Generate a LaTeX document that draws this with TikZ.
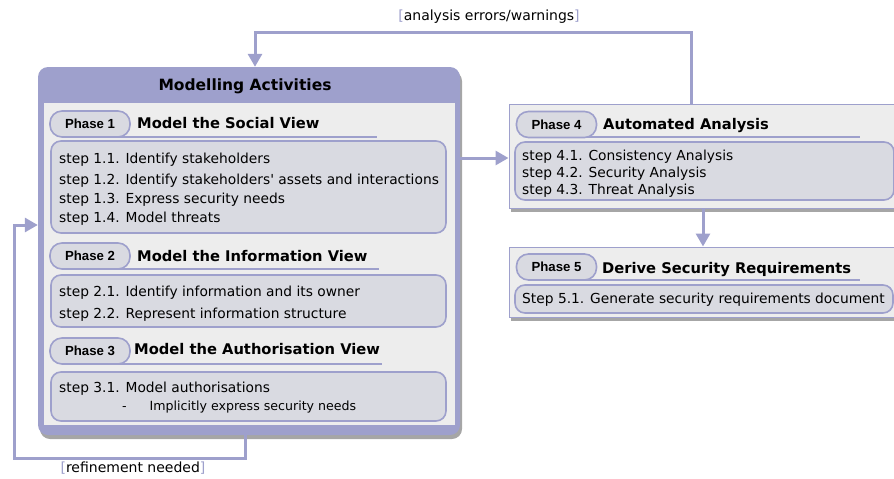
\documentclass[tikz,border=0pt]{standalone}
\usepackage{fontspec}
\setmainfont{DejaVu Sans}
\newfontfamily\phasefont{Liberation Sans}
\usetikzlibrary{arrows.meta,shadows}

\definecolor{lav}{RGB}{158,160,204}
\definecolor{paper}{RGB}{237,237,237}
\definecolor{stepfill}{RGB}{217,218,225}

\tikzset{
  flow/.style={draw=lav, line width=3pt, -{Triangle[length=13pt,width=14pt]}},
  rule/.style={draw=lav, line width=1.6pt},
  pill/.style={draw=lav, line width=1.6pt, fill=stepfill, rounded corners=12pt,
    minimum width=80pt, minimum height=26pt, inner sep=0pt,
    font=\phasefont\bfseries\fontsize{13.2}{15}\selectfont},
  stepbox/.style={draw=lav, line width=1.6pt, fill=stepfill, rounded corners=10pt, inner sep=0pt},
  phasebox/.style={draw=lav, line width=1pt, fill=paper, inner sep=0pt,
    drop shadow={shadow xshift=2pt, shadow yshift=-4pt, opacity=.35, fill=black}},
  title/.style={anchor=base west, inner sep=0pt, font=\bfseries\fontsize{14.7}{17}\selectfont},
  steptext/.style={anchor=base west, inner sep=0pt, font=\fontsize{13.8}{16}\selectfont},
  note/.style={anchor=base, inner sep=0pt, font=\fontsize{14}{16}\selectfont},
}
\newcommand{\bracketed}[1]{\textcolor{lav}{[}#1\textcolor{lav}{]}}

\begin{document}
\begin{tikzpicture}[x=1pt,y=-1pt]
  \useasboundingbox (0,0) rectangle (894,479);
  \clip (0,0) rectangle (894,479);

  % modelling activities
  \node[fill=lav, rounded corners=10pt, minimum width=422pt, minimum height=368pt, inner sep=0pt,
    drop shadow={shadow xshift=2pt, shadow yshift=-4pt, opacity=.35, fill=black}] (model) at (249,251) {};
  \node[fill=paper, minimum width=411pt, minimum height=322pt, inner sep=0pt] (modin) at (249.5,264) {};
  \node[note, font=\bfseries\fontsize{15.5}{18}\selectfont] (modtitle) at (245,90) {Modelling Activities};

  % phase 1
  \draw[rule] (90,137) -- (377,137);
  \node[pill] (ph1) at (90,124) {Phase 1};
  \node[title] (ph1t) at (137,128) {Model the Social View};
  \node[stepbox, minimum width=395pt, minimum height=92pt] (st1) at (248.5,187) {};
  \node[steptext] (s11) at (59,163) {step 1.1. Identify stakeholders};
  \node[steptext] (s12) at (59,184) {step 1.2. Identify stakeholders\textquotesingle\ assets and interactions};
  \node[steptext] (s13) at (59,203) {step 1.3. Express security needs};
  \node[steptext] (s14) at (59,222) {step 1.4. Model threats};

  % phase 2
  \draw[rule] (90,269) -- (379,269);
  \node[pill] (ph2) at (90,256) {Phase 2};
  \node[title] (ph2t) at (137,261) {Model the Information View};
  \node[stepbox, minimum width=395pt, minimum height=52pt] (st2) at (248.5,301) {};
  \node[steptext] (s21) at (59,296) {step 2.1. Identify information and its owner};
  \node[steptext] (s22) at (59,318) {step 2.2. Represent information structure};

  % phase 3
  \draw[rule] (90,364) -- (382,364);
  \node[pill] (ph3) at (90,351) {Phase 3};
  \node[title] (ph3t) at (134,354) {Model the Authorisation View};
  \node[stepbox, minimum width=395pt, minimum height=49pt] (st3) at (248.5,396.5) {};
  \node[steptext] (s31) at (59,392) {step 3.1. Model authorisations};
  \node[steptext, font=\fontsize{12.6}{15}\selectfont] (s31a) at (122,410) {-\hspace{23pt}Implicitly express security needs};

  % phase 4
  \node[phasebox, minimum width=500pt, minimum height=104pt] (p4) at (759,156) {};
  \draw[rule] (556,137) -- (860,137);
  \node[pill] (ph4) at (556.5,124.5) {Phase 4};
  \node[title] (ph4t) at (603,129) {Automated Analysis};
  \node[stepbox, minimum width=379pt, minimum height=58pt] (st4) at (704.5,171) {};
  \node[steptext] (s41) at (522,160) {step 4.1. Consistency Analysis};
  \node[steptext] (s42) at (522,177) {step 4.2. Security Analysis};
  \node[steptext] (s43) at (522,194) {step 4.3. Threat Analysis};

  % phase 5
  \node[phasebox, minimum width=500pt, minimum height=70pt] (p5) at (759,282) {};
  \draw[rule] (556,280) -- (860,280);
  \node[pill] (ph5) at (556.5,267) {Phase 5};
  \node[title] (ph5t) at (602,273) {Derive Security Requirements};
  \node[stepbox, minimum width=378pt, minimum height=28pt] (st5) at (704,299) {};
  \node[steptext] (s51) at (522,303) {Step 5.1. Generate security requirements document};

  % connectors
  \draw[flow] (model.east |- 0,158) -- (p4.west |- 0,158);
  \draw[flow] (p4.south -| 703,0) -- (p5.north -| 703,0);
  \draw[flow] (p4.north -| 691,0) |- (255,32) -- (model.north -| 255,0);
  \draw[flow] (model.south -| 245,0) |- (14,458) |- (model.west |- 0,225);
  \node[note] (errors) at (489,20) {\bracketed{analysis errors/warnings}};
  \node[note] (refine) at (133,472) {\bracketed{refinement needed}};
\end{tikzpicture}
\end{document}
